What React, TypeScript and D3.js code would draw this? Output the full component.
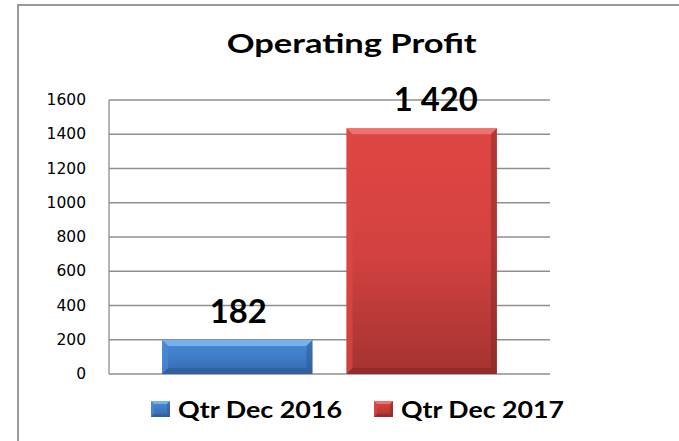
import React from "react";
import * as d3 from "d3";

const title = "Operating Profit";
const seriesNames = ["Qtr Dec 2016", "Qtr Dec 2017"];
const barValues = [198, 1435];
const dataLabels = ["182", "1 420"];
const yTicks = [0, 200, 400, 600, 800, 1000, 1200, 1400, 1600];
const palette = [
  { top: "#4a8ad6", mid: "#3f7cc8", bot: "#3768ad", light: "#7db8f2", dark: "#2c558c" },
  { top: "#df4643", mid: "#d34240", bot: "#a43331", light: "#f27a76", dark: "#7f2624" },
];

const W = 679;
const H = 441;
const plot = { left: 109, right: 550, top: 100, bottom: 374 };

export default function App() {
  const y = d3.scaleLinear().domain([0, 1600]).range([plot.bottom, plot.top]);
  const x = d3
    .scaleBand<string>()
    .domain(seriesNames)
    .range([plot.left, plot.right])
    .paddingInner(0.185)
    .paddingOuter(0.288);
  const bw = x.bandwidth();
  const grid = "#8f8f8f";
  const font = "Lato, 'Open Sans', sans-serif";
  const labelWidths = [57, 84];
  const labelDx = [1, 14];
  const legendX = [151, 374];
  const legendTextW = [164, 163];

  const bevel = (x0: number, y0: number, w: number, h: number, c: any, b: number, key: string) => {
    const x1 = x0 + w;
    const y1 = y0 + h;
    const bt = Math.min(b, h / 2);
    return (
      <g key={key}>
        <rect x={x0} y={y0} width={w} height={h} fill={`url(#grad${key})`} />
        <polygon points={`${x0},${y0} ${x1},${y0} ${x1 - b},${y0 + bt} ${x0 + b},${y0 + bt}`} fill={c.light} opacity={0.85} />
        <polygon points={`${x0},${y0} ${x0 + b},${y0 + bt} ${x0 + b},${y1 - bt} ${x0},${y1}`} fill={c.top} opacity={0.7} />
        <polygon points={`${x1},${y0} ${x1 - b},${y0 + bt} ${x1 - b},${y1 - bt} ${x1},${y1}`} fill={c.dark} opacity={0.45} />
        <polygon points={`${x0},${y1} ${x0 + b},${y1 - bt} ${x1 - b},${y1 - bt} ${x1},${y1}`} fill={c.dark} opacity={0.5} />
      </g>
    );
  };

  return (
    <svg
      width={W}
      height={H}
      viewBox={`0 0 ${W} ${H}`}
      style={{ position: "absolute", left: 0, top: 0, background: "#fff" }}
    >
      <defs>
        {palette.map((c, i) => (
          <linearGradient key={i} id={`gradb${i}`} x1="0" y1="0" x2="0" y2="1">
            <stop offset="0" stopColor={c.top} />
            <stop offset="0.5" stopColor={c.mid} />
            <stop offset="1" stopColor={c.bot} />
          </linearGradient>
        ))}
        {palette.map((c, i) => (
          <linearGradient key={"l" + i} id={`gradl${i}`} x1="0" y1="0" x2="0" y2="1">
            <stop offset="0" stopColor={c.top} />
            <stop offset="1" stopColor={c.bot} />
          </linearGradient>
        ))}
      </defs>
      <rect x={0} y={0} width={W} height={H} fill="#fff" />
      {/* outer border */}
      <line x1={18} y1={5} x2={18} y2={H} stroke="#9a9a9a" strokeWidth={2} />
      <line x1={17} y1={5} x2={W} y2={5} stroke="#9a9a9a" strokeWidth={2} />

      <text
        x={226.7}
        y={53.3}
        fontFamily={font}
        fontWeight={700}
        fontSize={27}
        textLength={250}
        lengthAdjust="spacingAndGlyphs"
        fill="#000"
      >
        {title}
      </text>

      {/* gridlines */}
      {yTicks.map((t) => (
        <line key={t} x1={plot.left} x2={plot.right} y1={y(t)} y2={y(t)} stroke={grid} strokeWidth={1.3} />
      ))}
      <line x1={plot.left} x2={plot.left} y1={plot.top} y2={plot.bottom} stroke={grid} strokeWidth={1.3} />

      {/* y tick labels */}
      {yTicks.map((t) => (
        <text
          key={t}
          x={86}
          y={y(t)}
          textAnchor="end"
          dominantBaseline="central"
          fontFamily="'DejaVu Sans', sans-serif"
          fontSize={15.5}
          fill="#000"
        >
          {t}
        </text>
      ))}

      {/* bars */}
      {seriesNames.map((s, i) => {
        const x0 = x(s) as number;
        const y0 = y(barValues[i]);
        return bevel(x0, y0, bw, plot.bottom - y0, palette[i], 6, "b" + i);
      })}

      {/* data labels */}
      {seriesNames.map((s, i) => {
        const cx = (x(s) as number) + bw / 2 + labelDx[i];
        const w = labelWidths[i];
        return (
          <text
            key={s}
            x={cx - w / 2}
            y={y(barValues[i]) - 17}
            fontFamily={font}
            fontWeight={700}
            fontSize={32}
            textLength={w}
            lengthAdjust="spacingAndGlyphs"
            fill="#000"
          >
            {dataLabels[i]}
          </text>
        );
      })}

      {/* legend */}
      {seriesNames.map((s, i) => (
        <g key={s}>
          {bevel(legendX[i], 401, 19, 16, palette[i], 3, "l" + i)}
          <text
            x={legendX[i] + 27}
            y={418.3}
            fontFamily={font}
            fontWeight={700}
            fontSize={23}
            textLength={legendTextW[i]}
            lengthAdjust="spacingAndGlyphs"
            fill="#000"
          >
            {s}
          </text>
        </g>
      ))}
    </svg>
  );
}
